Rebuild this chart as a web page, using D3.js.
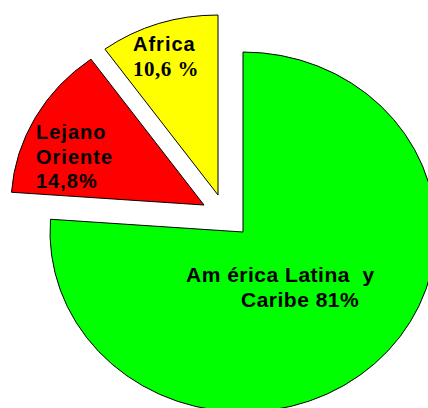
<!DOCTYPE html>
<html>
<head>
<meta charset="utf-8">
<script src="https://cdn.jsdelivr.net/npm/d3@7"></script>
<style>
  body { margin: 0; background: #fff; }
  svg { display: block; }
  text { font-weight: bold; white-space: pre; }
</style>
</head>
<body>
<svg id="chart" width="428" height="408"></svg>
<script>
// data
const regions = ["América Latina y Caribe", "Lejano Oriente", "Africa"];
const shares = [81, 14.8, 10.6];
const colors = ["#00ff00", "#ff0000", "#ffff00"];
const labelLines = [
  ["Am érica Latina  y", "Caribe 81%"],
  ["Lejano", "Oriente", "14,8%"],
  ["Africa", "10,6 %"]
];

const svg = d3.select("#chart");

// pie layout (slightly stretched horizontally like the original)
const cx = 243, cy = 232;
const ry = 180, rx = 193;
// how far each slice is pulled out from the center
const explode = [[0, 0], [-39, -27], [-25, -37]];

const pie = d3.pie().sort(null).value(d => d);
const arc = d3.arc().innerRadius(0).outerRadius(ry);
const arcs = pie(shares);

const slices = svg.selectAll("g.slice")
  .data(arcs)
  .enter()
  .append("g")
  .attr("class", "slice")
  .attr("transform", (d, i) =>
    `translate(${cx + explode[i][0]},${cy + explode[i][1]}) scale(${rx / ry},1)`);

slices.append("path")
  .attr("d", arc)
  .attr("fill", (d, i) => colors[i])
  .attr("stroke", "#000")
  .attr("stroke-width", 1)
  .attr("vector-effect", "non-scaling-stroke");

// labels
const sans = "'Liberation Sans', Arial, sans-serif";
const serif = "'Liberation Serif', 'Times New Roman', serif";
const labelPos = [
  { x: [186, 241], y: 282, size: 21, spacing: 0.5 },
  { x: [36, 36, 36], y: 139, size: 20, spacing: 1 },
  { x: [133, 133], y: 51, size: 20, spacing: 1 }
];

labelLines.forEach((lines, i) => {
  const p = labelPos[i];
  const t = svg.append("text")
    .attr("y", p.y)
    .attr("fill", "#000");
  lines.forEach((line, j) => {
    const isSerif = i === 2 && j === 1;
    t.append("tspan")
      .attr("x", p.x[j])
      .attr("dy", j === 0 ? 0 : 24.5)
      .attr("font-family", isSerif ? serif : sans)
      .attr("font-size", isSerif ? 21 : p.size)
      .attr("letter-spacing", isSerif ? 0.5 : p.spacing)
      .text(line);
  });
});
</script>
</body>
</html>
